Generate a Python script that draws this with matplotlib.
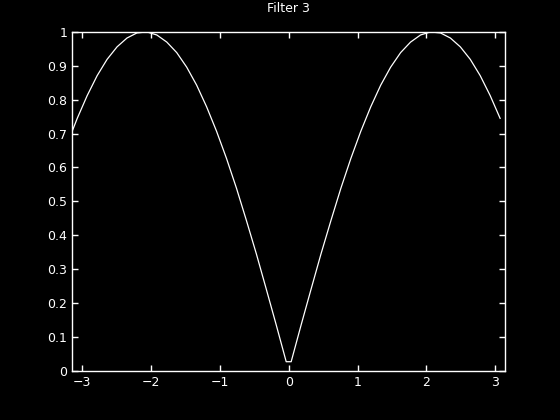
import matplotlib
matplotlib.use("Agg")
import matplotlib.pyplot as plt

# frequency samples (rad) and magnitude
w = [-3.142, -3.069, -2.925, -2.780, -2.636, -2.491, -2.347, -2.203, -2.058,
     -1.914, -1.769, -1.625, -1.480, -1.336, -1.191, -1.047, -0.903, -0.758,
     -0.614, -0.469, -0.325, -0.180, -0.036,
     0.036, 0.180, 0.325, 0.469, 0.614, 0.758, 0.903, 1.047, 1.191, 1.336,
     1.480, 1.625, 1.769, 1.914, 2.058, 2.203, 2.347, 2.491, 2.636, 2.780,
     2.925, 3.069]
mag = [0.707, 0.745, 0.812, 0.871, 0.919, 0.956, 0.982, 0.997, 1.000,
       0.991, 0.970, 0.939, 0.896, 0.843, 0.779, 0.707, 0.627, 0.539,
       0.444, 0.345, 0.241, 0.135, 0.027,
       0.027, 0.135, 0.241, 0.345, 0.444, 0.539, 0.627, 0.707, 0.779, 0.843,
       0.896, 0.939, 0.970, 0.991, 1.000, 0.997, 0.982, 0.956, 0.919, 0.871,
       0.812, 0.745]
xticks = [-3, -2, -1, 0, 1, 2, 3]
yticks = [0, 0.1, 0.2, 0.3, 0.4, 0.5, 0.6, 0.7, 0.8, 0.9, 1]
ylabels = ['0', '0.1', '0.2', '0.3', '0.4', '0.5', '0.6', '0.7', '0.8', '0.9', '1']

plt.rcParams['font.family'] = ['DejaVu Sans']
fig = plt.figure(figsize=(5.6, 4.2), dpi=100, facecolor='black')
ax = fig.add_axes([0.129, 0.117, 0.773, 0.807])
ax.set_facecolor('black')
ax.plot(w, mag, color='white', linewidth=0.9)
ax.set_xlim(-3.1416, 3.1416)
ax.set_ylim(0, 1)
ax.set_xticks(xticks)
ax.set_xticklabels(['\u2212' + str(-t) if t < 0 else str(t) for t in xticks])
ax.set_yticks(yticks)
ax.set_yticklabels(ylabels)
ax.tick_params(direction='in', length=4, width=1, colors='white',
               labelsize=9, top=True, right=True)
for s in ax.spines.values():
    s.set_color('white')
    s.set_linewidth(1)
ax.set_title('Filter 3', color='white', fontsize=9, pad=14)

fig.savefig('out.png', dpi=100, facecolor='black')
